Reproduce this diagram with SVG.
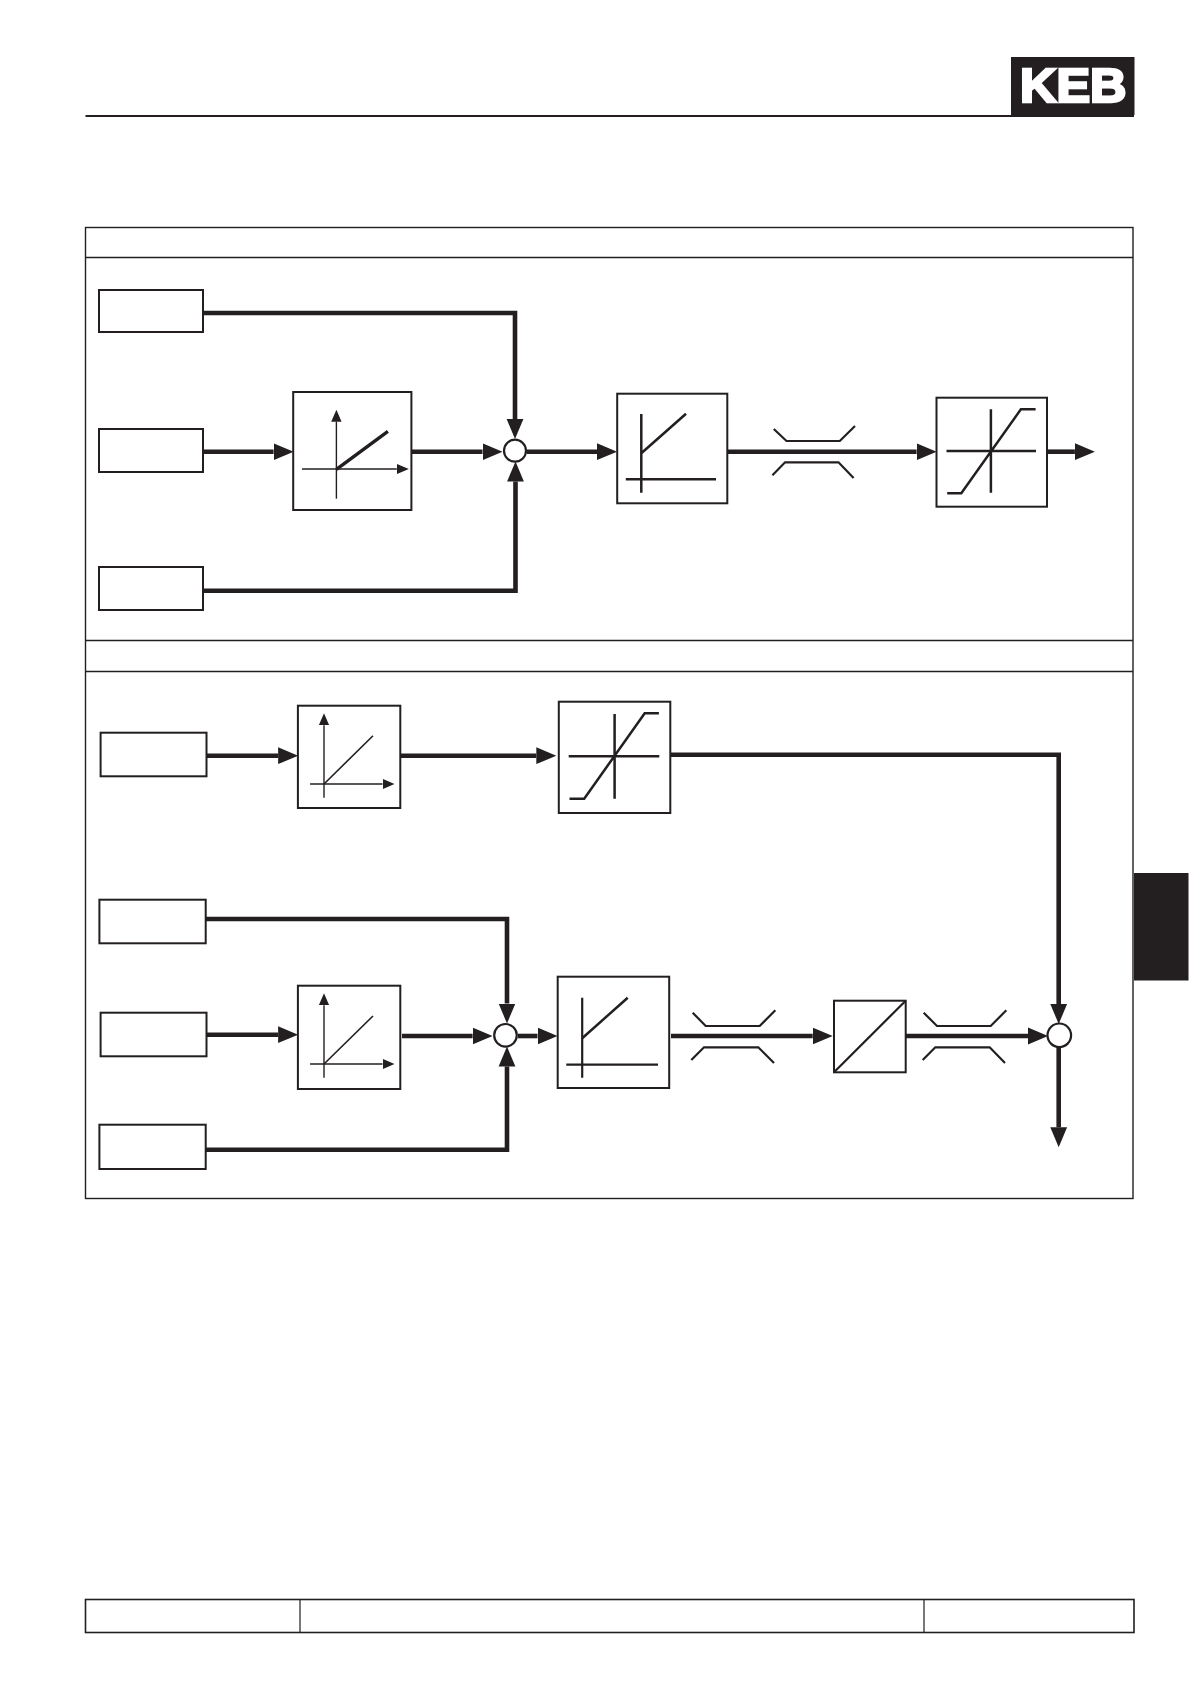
<svg xmlns="http://www.w3.org/2000/svg" width="1191" height="1684" viewBox="0 0 1191 1684">
<style>
.f{fill:none;stroke:#231f20;stroke-width:1.4}
.b{fill:#fff;stroke:#231f20;stroke-width:2}
.c{fill:none;stroke:#231f20;stroke-width:4.6;marker-end:url(#a)}
.s{fill:#fff;stroke:#231f20;stroke-width:2.2}
.t{fill:none;stroke:#231f20;stroke-width:1.4;marker-end:url(#m)}
.d{fill:none;stroke:#231f20;stroke-width:1.6}
.w{fill:none;stroke:#231f20;stroke-width:2.5}
.h{fill:none;stroke:#231f20;stroke-width:2.2}
</style>
<defs>
<marker id="a" markerUnits="userSpaceOnUse" markerWidth="21" markerHeight="18" refX="0" refY="9" orient="auto"><path d="M0,0.6L20,9L0,17.4Z" fill="#231f20"/></marker>
<marker id="m" markerUnits="userSpaceOnUse" markerWidth="13" markerHeight="12" refX="0" refY="6" orient="auto"><path d="M0,0.8L12,6L0,11.2Z" fill="#231f20"/></marker>
</defs>
<rect width="1191" height="1684" fill="#fff"/>
<g id="header">
<line x1="85.5" y1="116" x2="1134" y2="116" stroke="#231f20" stroke-width="1.8"/>
<rect x="1011" y="57" width="123.5" height="58" fill="#231f20"/>
<text x="1020" y="102.3" font-family="'Liberation Sans',Arial,sans-serif" font-weight="700" font-size="47.5" textLength="106.5" lengthAdjust="spacingAndGlyphs" fill="#fff" stroke="#fff" stroke-width="2.6">KEB</text>
</g>
<g id="frame">
<rect class="f" x="85.5" y="227.5" width="1047.5" height="971"/>
<line class="f" x1="85.5" y1="257.5" x2="1133" y2="257.5"/>
<line class="f" x1="85.5" y1="640.5" x2="1133" y2="640.5"/>
<line class="f" x1="85.5" y1="671.5" x2="1133" y2="671.5"/>
</g>
<rect id="tab" x="1134" y="873" width="54.5" height="107.5" fill="#231f20"/>
<g id="connectors">
<path class="c" d="M203 313H515V419"/>
<path class="c" d="M203 451.7H273.6"/>
<path class="c" d="M412 451.7H482.5"/>
<path class="c" d="M203 590.7H515.5V481.5"/>
<path class="c" d="M527 451.7H597"/>
<path class="c" d="M727.5 451.7H916.6"/>
<path class="c" d="M1047.5 451.7H1074.9"/>
<path class="c" d="M206.5 755.7H278.1"/>
<path class="c" d="M401 755.7H536.3"/>
<path class="c" d="M670.3 754.7H1058.7V1004"/>
<path class="c" d="M205.7 919H507V1003.5"/>
<path class="c" d="M206.5 1034.7H278.1"/>
<path class="c" d="M402 1036H472.6"/>
<path class="c" d="M518 1036H537.5"/>
<path class="c" d="M205.7 1149.7H507V1066.5"/>
<path class="c" d="M671 1036H812.7"/>
<path class="c" d="M905.7 1036H1028"/>
<path class="c" d="M1058.7 1047V1127.3"/>
</g>
<g id="input-a1"><rect class="b" x="99" y="290" width="104" height="42"/></g>
<g id="input-a2"><rect class="b" x="99" y="429" width="104" height="43"/></g>
<g id="input-a3"><rect class="b" x="99" y="567" width="104" height="43"/></g>
<g id="gain-a">
<rect class="b" x="293.2" y="392" width="118.2" height="118"/>
<path class="t" d="M336.4 498.7V421.7"/>
<path class="t" d="M302 469H396.8"/>
<path d="M336.4 469.3L387.9 431.3" fill="none" stroke="#231f20" stroke-width="3.4"/>
</g>
<g id="sum-a"><circle class="s" cx="515" cy="450.7" r="11"/></g>
<g id="dead-a">
<rect class="b" x="617.2" y="393.7" width="110.1" height="109.6"/>
<path class="w" d="M641.3 414V492.7M625.8 479.3H716M641.3 453.3L686 413.7"/>
</g>
<g id="choke-a">
<path class="h" d="M773.8 429L786.5 441H839.8L855 426M772.4 475.3L785.1 462.3H838.5L853.6 478"/>
</g>
<g id="limit-a">
<rect class="b" x="936.5" y="397.7" width="110.5" height="109"/>
<path class="w" d="M990.9 409.3V492.7M946.5 451H1036M947.2 493.3H961.3L1020.9 409.3H1035.6"/>
</g>
<g id="input-b1"><rect class="b" x="100.6" y="732.7" width="105.9" height="43.6"/></g>
<g id="gain-b1">
<rect class="b" x="297.9" y="705.7" width="102.4" height="102.3"/>
<path class="t" d="M324 797.7V725.3"/>
<path class="t" d="M310.1 784H382.5"/>
<path class="d" d="M324 784L373 735.7"/>
</g>
<g id="limit-b">
<rect class="b" x="558.8" y="701.7" width="111.5" height="111.3"/>
<path class="w" d="M614.6 714V798.7M568.7 756.3H659.3M569.5 798.7H584.2L644.7 713.3H658.9"/>
</g>
<g id="input-b2"><rect class="b" x="99.4" y="899.7" width="106.3" height="43.6"/></g>
<g id="input-b3"><rect class="b" x="100.6" y="1012.7" width="105.9" height="43.6"/></g>
<g id="input-b4"><rect class="b" x="99.4" y="1124.7" width="106.3" height="44.3"/></g>
<g id="gain-b2">
<rect class="b" x="297.9" y="985.7" width="102.4" height="103.3"/>
<path class="t" d="M324 1077.7V1005.3"/>
<path class="t" d="M310.1 1064H382.5"/>
<path class="d" d="M324 1064L373 1016"/>
</g>
<g id="sum-b1"><circle class="s" cx="505.5" cy="1035.3" r="11.3"/></g>
<g id="dead-b">
<rect class="b" x="557.7" y="976.7" width="111.5" height="111.3"/>
<path class="h" d="M582.2 997.7V1077.7M566.3 1064.7H658"/>
<path class="w" d="M582.2 1038.3L627.7 997.7"/>
</g>
<g id="choke-b1">
<path class="h" d="M692.7 1012.7L705.7 1026H759.7L775.3 1010.3M691.3 1060L704 1047.3H758.3L774 1063"/>
</g>
<g id="converter">
<rect class="b" x="834" y="1000.7" width="71.7" height="71.6"/>
<path class="h" d="M834 1072.3L905.7 1000.7"/>
</g>
<g id="choke-b2">
<path class="h" d="M923.7 1012.7L937 1026H990.7L1006.3 1010.3M922.7 1060L935.3 1047.3H989.7L1005 1063"/>
</g>
<g id="sum-b2"><circle class="s" cx="1059.3" cy="1035.3" r="11.8"/></g>
<g id="footer">
<rect x="85.5" y="1599.5" width="1048.5" height="33" fill="none" stroke="#231f20" stroke-width="1.6"/>
<path d="M300 1599.5V1632.5M924 1599.5V1632.5" stroke="#231f20" stroke-width="1.2" fill="none"/>
</g>
</svg>
